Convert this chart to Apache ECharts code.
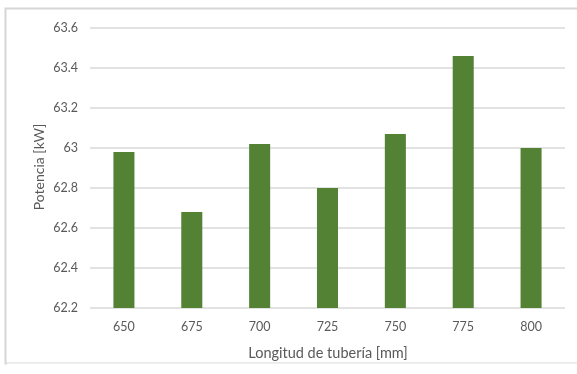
<!DOCTYPE html>
<html>
<head>
<meta charset="utf-8">
<script src="https://cdn.jsdelivr.net/npm/echarts@6/dist/echarts.min.js"></script>
<style>
  html, body { margin: 0; padding: 0; background: #ffffff; }
  #chart { width: 577px; height: 374px; }
</style>
</head>
<body>
<div id="chart"></div>
<script>
// Pipe length categories and the power measured for each
const longitudes = ['650', '675', '700', '725', '750', '775', '800'];
const potencia = [62.98, 62.68, 63.02, 62.80, 63.07, 63.46, 63.00];

// Value axis range and step
const yMin = 62.2;
const yMax = 63.6;
const yStep = 0.2;

const textColor = '#595959';
const fontFamily = 'Lato, "Open Sans", sans-serif';

const chart = echarts.init(document.getElementById('chart'), null, { renderer: 'canvas' });

chart.setOption({
  animation: false,
  backgroundColor: '#ffffff',
  grid: { left: 90, right: 12, top: 28, bottom: 66, containLabel: false },
  xAxis: {
    type: 'category',
    data: longitudes,
    axisLine: { show: false },
    axisTick: { show: false },
    axisLabel: { color: textColor, fontSize: 12.5, fontFamily: fontFamily, margin: 12 }
  },
  yAxis: {
    type: 'value',
    min: yMin,
    max: yMax,
    interval: yStep,
    axisLine: { show: false },
    axisTick: { show: false },
    axisLabel: {
      color: textColor, fontSize: 12.5, fontFamily: fontFamily, margin: 12,
      formatter: v => String(Math.round(v * 10) / 10)
    },
    splitLine: { lineStyle: { color: '#d9d9d9', width: 1.5 } }
  },
  series: [{
    type: 'bar',
    data: potencia,
    barWidth: '31%',
    itemStyle: { color: '#548235' }
  }],
  graphic: [
    {
      type: 'rect',
      shape: { x: 5.5, y: 8.5, width: 640, height: 355 },
      style: { fill: null, stroke: '#d6d6d6', lineWidth: 2 },
      silent: true
    },
    {
      type: 'rect',
      shape: { x: 7, y: 363, width: 640, height: 2 },
      style: { fill: '#ffffff' },
      silent: true
    },
    {
      type: 'line',
      shape: { x1: 7, y1: 363.5, x2: 577, y2: 363.5 },
      style: { stroke: '#efefef', lineWidth: 1 },
      silent: true
    },
    {
      type: 'text',
      x: 39, y: 167,
      rotation: Math.PI / 2,
      style: {
        text: 'Potencia [kW]',
        fill: textColor, fontSize: 14, fontFamily: fontFamily,
        align: 'center', verticalAlign: 'middle'
      }
    },
    {
      type: 'text',
      x: 328, y: 353,
      style: {
        text: 'Longitud de tubería [mm]',
        fill: textColor, fontSize: 14.5, fontFamily: fontFamily,
        align: 'center', verticalAlign: 'middle'
      }
    }
  ]
});
</script>
</body>
</html>
